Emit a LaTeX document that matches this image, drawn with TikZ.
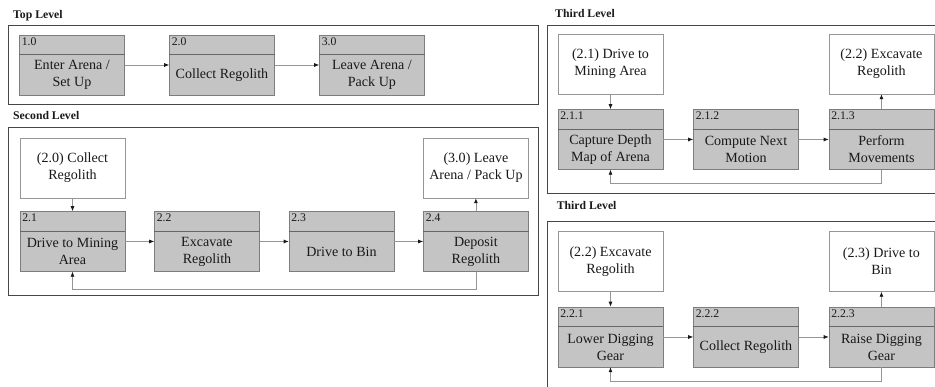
\documentclass[tikz,border=0pt]{standalone}
\usepackage{fontspec}
\setmainfont{Liberation Serif}
\usetikzlibrary{arrows.meta,positioning}
\definecolor{boxgray}{RGB}{196,196,196}
\definecolor{edgegray}{RGB}{125,125,125}
\definecolor{linegray}{RGB}{150,150,150}
\definecolor{framegray}{RGB}{70,70,70}
\definecolor{inkgray}{RGB}{25,25,25}

% grey process box: name, placement, number, text
\newcommand{\procbox}[4]{%
  \node[proc, #2] (#1) {};
  \draw[hdr] ([yshift=-6mm]#1.north west) -- ([yshift=-6mm]#1.north east);
  \node[num] (#1-num) at (#1.north west) {#3};
  \node[txt] (#1-txt) at ([yshift=-3mm]#1.center) {#4};
}

\begin{document}
\begin{tikzpicture}[
    proc/.style={draw=edgegray, fill=boxgray, minimum width=3.15cm, minimum height=1.8cm, inner sep=0pt},
    ref/.style={draw=linegray, fill=white, minimum width=3.15cm, minimum height=1.8cm, inner sep=1pt,
      font=\fontsize{12}{14.5}\selectfont, text=inkgray, align=center},
    hdr/.style={draw=black!60, line width=0.6pt},
    num/.style={anchor=north west, inner sep=2pt, font=\fontsize{10}{12}\selectfont, text=inkgray},
    txt/.style={inner sep=1pt, font=\fontsize{12}{14.5}\selectfont, text=inkgray, align=center},
    flow/.style={draw=linegray, line width=0.6pt, -{Latex[length=1.5mm,width=1.2mm,color=inkgray]}},
    frame/.style={draw=framegray, line width=0.8pt},
    lvl/.style={anchor=base west, inner sep=0pt, font=\bfseries\fontsize{10}{12}\selectfont, text=inkgray}
]
\useasboundingbox (0,0) rectangle (28.05,-11.61);
\clip (0,0) rectangle (28.05,-11.61);

% top level
\draw[frame] (0.24,-0.75) rectangle (16.14,-3.12);
\node[lvl] (toplbl) at (0.39,-0.57) {Top Level};
\procbox{enter}{at={(2.16,-1.95)}}{1.0}{Enter Arena /\\Set Up}
\procbox{collect}{right=1.335cm of enter}{2.0}{Collect Regolith}
\procbox{leave}{right=1.335cm of collect}{3.0}{Leave Arena /\\Pack Up}
\draw[flow] (enter) -- (collect);
\draw[flow] (collect) -- (leave);

% second level
\draw[frame] (0.24,-3.81) rectangle (16.14,-8.85);
\node[lvl] (secondlbl) at (0.39,-3.6) {Second Level};
\node[ref] (collectref) at (2.175,-5.04) {(2.0) Collect\\Regolith};
\procbox{mining}{below=0.39cm of collectref}{2.1}{Drive to Mining\\Area}
\procbox{excavate}{right=0.87cm of mining}{2.2}{Excavate\\Regolith}
\procbox{tobin}{right=0.87cm of excavate}{2.3}{Drive to Bin}
\procbox{deposit}{right=0.87cm of tobin}{2.4}{Deposit\\Regolith}
\node[ref, above=0.39cm of deposit] (leaveref) {(3.0) Leave\\Arena / Pack Up};
\draw[flow] (collectref) -- (mining);
\draw[flow] (mining) -- (excavate);
\draw[flow] (excavate) -- (tobin);
\draw[flow] (tobin) -- (deposit);
\draw[flow] (deposit) -- (leaveref);
\draw[flow] (deposit.south) -- ++(0,-0.54) -| (mining.south);

% third level, drive to mining area
\draw[frame] (16.41,-0.75) rectangle (28.4,-5.79);
\node[lvl] (thirdlbl) at (16.65,-0.54) {Third Level};
\node[ref] (miningref) at (18.315,-1.92) {(2.1) Drive to\\Mining Area};
\procbox{depth}{below=0.45cm of miningref}{2.1.1}{Capture Depth\\Map of Arena}
\procbox{motion}{right=0.9cm of depth}{2.1.2}{Compute Next\\Motion}
\procbox{perform}{right=0.9cm of motion}{2.1.3}{Perform\\Movements}
\node[ref, above=0.45cm of perform] (excavateref) {(2.2) Excavate\\Regolith};
\draw[flow] (miningref) -- (depth);
\draw[flow] (depth) -- (motion);
\draw[flow] (motion) -- (perform);
\draw[flow] (perform) -- (excavateref);
\draw[flow] (perform.south) -- ++(0,-0.42) -| (depth.south);

% third level, excavate regolith
\draw[frame] (16.41,-6.63) rectangle (28.4,-12);
\node[lvl] (digginglbl) at (16.7,-6.3) {Third Level};
\node[ref] (digref) at (18.315,-7.845) {(2.2) Excavate\\Regolith};
\procbox{lower}{below=0.45cm of digref}{2.2.1}{Lower Digging\\Gear}
\procbox{gather}{right=0.9cm of lower}{2.2.2}{Collect Regolith}
\procbox{raise}{right=0.9cm of gather}{2.2.3}{Raise Digging\\Gear}
\node[ref, above=0.45cm of raise] (binref) {(2.3) Drive to\\Bin};
\draw[flow] (digref) -- (lower);
\draw[flow] (lower) -- (gather);
\draw[flow] (gather) -- (raise);
\draw[flow] (raise) -- (binref);
\draw[flow] (raise.south) -- ++(0,-0.435) -| (lower.south);
\end{tikzpicture}
\end{document}
